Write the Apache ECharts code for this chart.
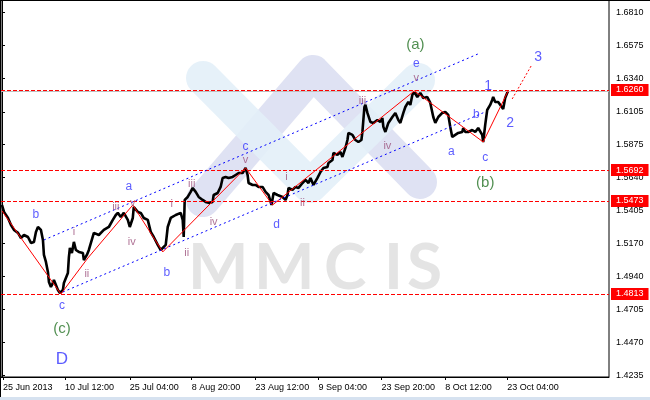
<!DOCTYPE html>
<html><head><meta charset="utf-8">
<script src="https://cdn.jsdelivr.net/npm/echarts@6/dist/echarts.min.js"></script>
<style>html,body{margin:0;padding:0;background:#fff;}#c{width:650px;height:400px;}</style>
</head><body><div id="c"></div>
<script>
// ---- price path (H4 bars, index from left edge) ----
const bars = [0,2,6,9,12,16,19,22,26,29,32,34,36,39,41,42,44,46,47,49,51,52,54,56,58,61,62,64,66,67,68,70,72,74,77,81,82,85,87,89,92,97,102,107,111,114,116,119,122,126,128,131,132,136,139,142,146,149,152,156,159,161,164,166,169,174,179,181,182,183,186,189,191,194,197,201,204,207,211,212,216,219,221,224,227,231,234,237,241,244,246,247,251,254,257,261,264,267,270,272,276,281,284,286,287,291,294,297,301,304,307,309,312,316,319,322,326,327,331,332,336,339,341,344,346,347,351,354,357,360,361,362,363,364,366,369,372,376,379,381,382,384,387,391,394,397,399,402,404,407,409,411,413,416,419,422,426,429,431,432,434,437,441,444,447,449,451,454,457,461,462,464,467,471,474,477,479,481,482,484,486,489,491,492,494,497,499,502,504,506,507];
const prices = [1.5444,1.5395,1.5352,1.5302,1.5267,1.5246,1.5210,1.5231,1.5217,1.5175,1.5182,1.5253,1.5288,1.5267,1.5196,1.5090,1.5040,1.4969,1.4898,1.4863,1.4891,1.4912,1.4877,1.4841,1.4820,1.4841,1.4891,1.4877,1.4962,1.5075,1.5139,1.5104,1.5182,1.5125,1.5111,1.5104,1.5054,1.5090,1.5125,1.5139,1.5246,1.5231,1.5267,1.5288,1.5338,1.5373,1.5388,1.5359,1.5388,1.5338,1.5288,1.5352,1.5430,1.5395,1.5388,1.5352,1.5338,1.5253,1.5217,1.5161,1.5125,1.5111,1.5161,1.5288,1.5352,1.5373,1.5388,1.5338,1.5217,1.5480,1.5501,1.5537,1.5565,1.5537,1.5501,1.5480,1.5466,1.5459,1.5466,1.5515,1.5529,1.5572,1.5636,1.5643,1.5636,1.5643,1.5657,1.5671,1.5671,1.5707,1.5657,1.5600,1.5586,1.5586,1.5572,1.5572,1.5537,1.5515,1.5444,1.5529,1.5515,1.5501,1.5480,1.5515,1.5565,1.5551,1.5572,1.5565,1.5600,1.5622,1.5600,1.5636,1.5586,1.5636,1.5678,1.5707,1.5714,1.5742,1.5763,1.5813,1.5799,1.5820,1.5785,1.5849,1.5905,1.5955,1.5941,1.5905,1.5891,1.5905,1.5962,1.5976,1.6139,1.6154,1.6097,1.6033,1.6026,1.6047,1.6033,1.6061,1.5998,1.5962,1.6026,1.6068,1.6097,1.6047,1.6026,1.6097,1.6139,1.6175,1.6154,1.6225,1.6246,1.6210,1.6239,1.6203,1.6210,1.6168,1.6168,1.6068,1.6026,1.6068,1.6097,1.6104,1.6083,1.5998,1.5927,1.5941,1.5955,1.5962,1.5990,1.5962,1.5962,1.5976,1.5962,1.5990,1.5998,1.5941,1.5891,1.6012,1.6118,1.6154,1.6189,1.6210,1.6175,1.6175,1.6168,1.6125,1.6203,1.6239,1.6253];

// ---- axes ----
const xTickBars = [1, 63, 128, 190, 254, 317, 380, 444, 506];
const xTickLabels = ['25 Jun 2013','10 Jul 12:00','25 Jul 04:00','8 Aug 20:00','23 Aug 12:00','9 Sep 04:00','23 Sep 20:00','8 Oct 12:00','23 Oct 04:00'];
const yTicks = [1.6810,1.6575,1.6340,1.6105,1.5875,1.5640,1.5405,1.5170,1.4940,1.4705,1.4470,1.4235];

// ---- levels ----
const levels = [1.6260, 1.5692, 1.5473, 1.4813];
const bidPrice = 1.6253;

// ---- wave zigzag ----
const waveBars = [0, 19, 59, 86, 131, 161, 244, 271, 413, 482, 507];
const wavePrices = [1.5402, 1.5210, 1.4813, 1.5068, 1.5444, 1.5111, 1.5707, 1.5444, 1.6253, 1.5891, 1.6253];
const projBars = [511, 530];
const projPrices = [1.6196, 1.6430];

// ---- channel ----
const upperChBars = [42, 479];
const upperChPrices = [1.5196, 1.6522];
const lowerChBars = [61, 484];
const lowerChPrices = [1.4827, 1.6104];

// ---- wave labels ----
const letterLabels = ['b','a','c','b','c','d','e','a','b','c'];
const letterBars = [34,127,60,165,244,275,415,450,475,484];
const letterPrices = [1.5373,1.5572,1.4728,1.4962,1.5856,1.5302,1.6444,1.5820,1.6083,1.5778];
const romanLabels = ['i','ii','iii','iv','v','i','ii','iii','iv','v','i','ii','iii','iv','v'];
const romanBars = [72,85,114,130,131,170,185,190,212,244,285,301,361,386,415];
const romanPrices = [1.5253,1.4955,1.5430,1.5182,1.5459,1.5451,1.5104,1.5593,1.5324,1.5763,1.5643,1.5459,1.6182,1.5863,1.6345];
const bigLabels = ['(a)','(b)','(c)'];
const bigBars = [414, 484, 60];
const bigPrices = [1.6579, 1.5600, 1.4565];
const numLabels = ['1','2','3'];
const numBars = [487, 509, 537];
const numPrices = [1.6288, 1.6026, 1.6494];
const degreeLabels = ['D'];
const degreeBars = [60];
const degreePrices = [1.4352];

const zip = (a, b) => a.map((v, i) => [v, b[i]]);
const zip3 = (a, b, c) => a.map((v, i) => [v, b[i], c[i]]);
const FONT = 'Liberation Sans, Arial, sans-serif';

function labelSeries(xs, ys, names, color, size) {
  return {
    type: 'scatter', data: zip3(xs, ys, names), symbolSize: 0, z: 10, silent: true,
    label: { show: true, position: 'inside', formatter: p => p.data[2], color: color, fontSize: size, fontFamily: FONT }
  };
}
function lineSeries(xs, ys, color, width, dash, z) {
  return { type: 'line', data: zip(xs, ys), showSymbol: false, symbol: 'none', silent: true, z: z,
    lineStyle: { color: color, width: width, type: dash } };
}
const WM = { fill: '#e4e4e4', font: 'bold 64px Lato, sans-serif' };

const chart = echarts.init(document.getElementById('c'), null, { renderer: 'canvas' });
chart.setOption({
  animation: false,
  backgroundColor: '#ffffff',
  grid: { left: 0, top: 0, right: 41, bottom: 23, show: true, borderColor: '#000', borderWidth: 1, backgroundColor: 'transparent' },
  graphic: [
    { type: 'polyline', z: -5, shape: { points: [[203,200],[313,72],[420,182]] }, style: { stroke: '#dfe2f3', lineWidth: 34, fill: null, lineCap: 'round', lineJoin: 'round' } },
    { type: 'polyline', z: -4, shape: { points: [[203,78],[310,186],[418,80]] }, style: { stroke: '#e3f0f8', lineWidth: 34, fill: null, lineCap: 'round', lineJoin: 'round', opacity: 0.9 } },
    { type: 'text', z: -3, left: 188, top: 236, style: Object.assign({ text: 'M' }, WM) },
    { type: 'text', z: -3, left: 254, top: 236, style: Object.assign({ text: 'M' }, WM) },
    { type: 'text', z: -3, left: 324, top: 236, style: Object.assign({ text: 'C' }, WM) },
    { type: 'text', z: -3, left: 384, top: 236, style: Object.assign({ text: 'I' }, WM) },
    { type: 'text', z: -3, left: 407, top: 236, style: Object.assign({ text: 'S' }, WM) },
    { type: 'rect', z: 50, shape: { x: 0, y: 0, width: 650, height: 1 }, style: { fill: '#000' } },
    { type: 'rect', z: 50, shape: { x: 0, y: 0, width: 1, height: 397 }, style: { fill: '#000' } },
    { type: 'rect', z: 50, shape: { x: 0, y: 397, width: 650, height: 3 }, style: { fill: '#d6e2f0' } }
  ],
  xAxis: {
    type: 'value', min: -1, max: 608,
    axisLine: { show: true, lineStyle: { color: '#000', width: 1 } },
    axisTick: { show: true, customValues: xTickBars, length: 3, lineStyle: { color: '#000' } },
    axisLabel: { show: true, customValues: xTickBars, align: 'left', margin: 6, fontSize: 9, fontFamily: FONT, color: '#000',
      formatter: v => { const i = xTickBars.indexOf(v); return i >= 0 ? xTickLabels[i] : ''; } },
    splitLine: { show: false }
  },
  yAxis: {
    type: 'value', position: 'right', min: 1.4224, max: 1.6898,
    axisLine: { show: true, lineStyle: { color: '#000', width: 1 } },
    axisTick: { show: true, customValues: yTicks, length: 3, lineStyle: { color: '#000' } },
    axisLabel: { show: true, customValues: yTicks, margin: 7, fontSize: 9, fontFamily: FONT, color: '#000',
      formatter: v => v.toFixed(4) },
    splitLine: { show: false }
  },
  series: [
    {
      type: 'line', data: [], silent: true, z: 3,
      markLine: {
        silent: true, symbol: ['none', 'none'], animation: false, precision: 4,
        data: [{ yAxis: bidPrice, lineStyle: { color: '#c0c0c0', type: 'solid', width: 1 }, label: { show: false } }]
          .concat(levels.map(v => ({ yAxis: v }))),
        lineStyle: { color: '#ff0000', type: [4, 2], width: 1 },
        label: { show: true, position: 'end', distance: 2, formatter: p => Number(p.value).toFixed(4),
          backgroundColor: '#ff0000', color: '#ffffff', fontSize: 9, fontFamily: FONT, padding: [2, 5, 1, 5] }
      }
    },
    lineSeries(bars, prices, '#000000', 2.6, 'solid', 4),
    lineSeries(waveBars, wavePrices, '#ff0000', 1, 'solid', 5),
    lineSeries(projBars, projPrices, '#ff0000', 1, [2, 2], 5),
    lineSeries(upperChBars, upperChPrices, '#0000ff', 1, [2, 3], 5),
    lineSeries(lowerChBars, lowerChPrices, '#0000ff', 1, [2, 3], 5),
    labelSeries(letterBars, letterPrices, letterLabels, '#3333ff', 12),
    labelSeries(romanBars, romanPrices, romanLabels, '#9b4f7a', 11),
    labelSeries(bigBars, bigPrices, bigLabels, '#267326', 15),
    labelSeries(numBars, numPrices, numLabels, '#3333ff', 14),
    labelSeries(degreeBars, degreePrices, degreeLabels, '#3333ff', 17)
  ]
});
</script></body></html>
